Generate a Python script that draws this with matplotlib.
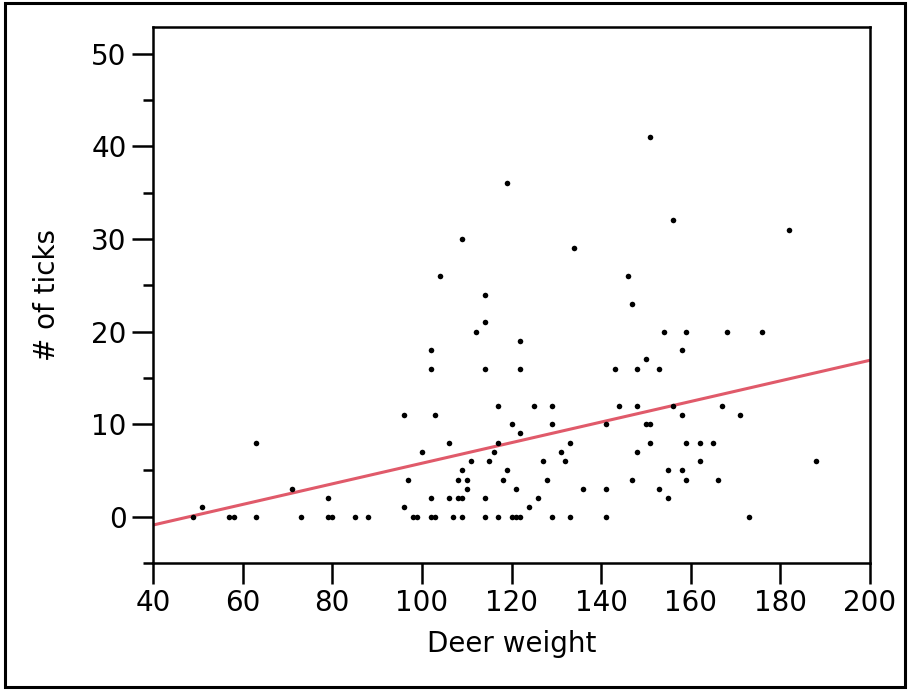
import matplotlib.pyplot as plt
from matplotlib.patches import Rectangle
from matplotlib.ticker import MultipleLocator

# deer weight vs number of ticks
weight = [49, 51, 57, 58, 63, 63, 71, 73, 79, 79, 80, 85, 88,
          96, 96, 97, 98, 99, 100, 102, 102, 102, 102, 103, 103, 104,
          106, 106, 107, 108, 108, 109, 109, 109, 109, 110, 110, 111, 112,
          114, 114, 114, 114, 114, 115, 116, 117, 117, 117, 118, 119, 119,
          120, 120, 121, 121, 122, 122, 122, 122, 124, 125, 126, 127, 128,
          129, 129, 129, 131, 132, 133, 133, 134, 136, 141, 141, 141,
          143, 144, 146, 147, 147, 148, 148, 148, 150, 150, 151, 151, 151,
          153, 153, 154, 155, 155, 156, 156, 158, 158, 158, 159, 159, 159,
          162, 162, 165, 166, 167, 168, 171, 173, 176, 182, 188]
ticks = [0, 1, 0, 0, 8, 0, 3, 0, 2, 0, 0, 0, 0,
         11, 1, 4, 0, 0, 7, 18, 16, 2, 0, 0, 11, 26,
         8, 2, 0, 4, 2, 2, 30, 5, 0, 4, 3, 6, 20,
         24, 21, 16, 2, 0, 6, 7, 12, 8, 0, 4, 36, 5,
         10, 0, 0, 3, 19, 16, 9, 0, 1, 12, 2, 6, 4,
         12, 10, 0, 7, 6, 8, 0, 29, 3, 10, 3, 0,
         16, 12, 26, 23, 4, 16, 12, 7, 17, 10, 41, 10, 8,
         16, 3, 20, 5, 2, 32, 12, 18, 11, 5, 20, 8, 4,
         8, 6, 8, 4, 12, 20, 11, 0, 20, 31, 6]

# fitted line
fit_x = [40, 200]
fit_y = [-0.9, 16.9]

plt.rcParams['font.family'] = ['DejaVu Sans']

fig = plt.figure(figsize=(9.08, 6.90), dpi=100)
ax = fig.add_axes([153/908, 1 - 563/690, (870 - 153)/908, (563 - 27)/690])

ax.scatter(weight, ticks, s=16, color='black', zorder=3, linewidths=0)
ax.plot(fit_x, fit_y, color='#e05a6a', lw=2.2, zorder=2, solid_capstyle='butt')

ax.set_xlim(40, 200)
ax.set_ylim(-5, 52.9)
ax.xaxis.set_major_locator(MultipleLocator(20))
ax.yaxis.set_major_locator(MultipleLocator(10))
ax.yaxis.set_minor_locator(MultipleLocator(5))

ax.tick_params(axis='both', which='major', direction='out', length=15, width=1.8,
               labelsize=20, pad=4)
ax.tick_params(axis='y', which='minor', direction='out', length=7, width=1.8)
for s in ax.spines.values():
    s.set_linewidth(1.8)

ax.set_xlabel('Deer weight', fontsize=20, labelpad=9)
ax.set_ylabel('# of ticks', fontsize=20, labelpad=22)

# outer border round the whole picture
fig.patches.append(Rectangle((5/908, 3/690), 900/908, 684/690, transform=fig.transFigure,
                             fill=False, edgecolor='black', lw=2.2))

fig.savefig('out.png', dpi=100)
